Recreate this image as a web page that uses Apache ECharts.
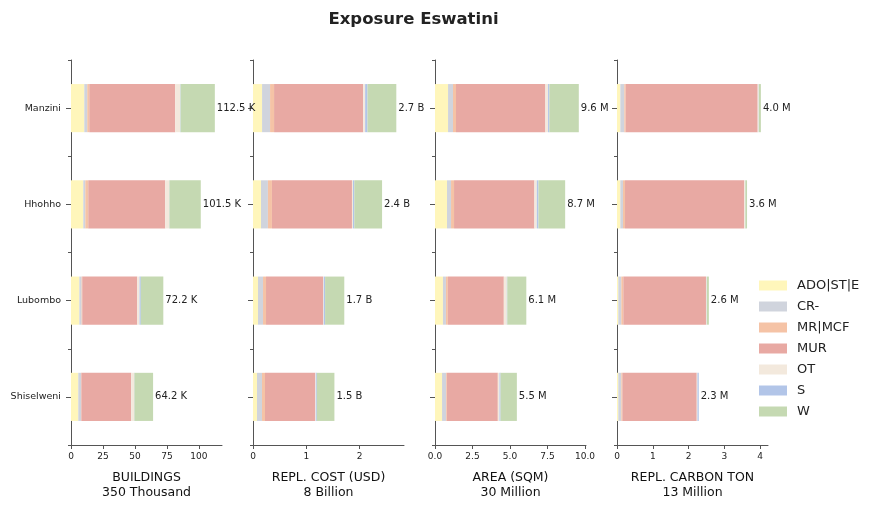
<!DOCTYPE html>
<html>
	<head>
		<meta charset="utf-8">
		<title>Exposure Eswatini</title>
		<script src="https://cdn.jsdelivr.net/npm/echarts@6/dist/echarts.min.js"></script>
		<style>
			html, body { margin: 0; padding: 0; background: #fff; }
			#chart { width: 879px; height: 510px; }
		</style>
	</head>
	<body>
		<div id="chart"></div>
		<script>
			// regions, top to bottom
			const regions = ['Manzini', 'Hhohho', 'Lubombo', 'Shiselweni'];
			const classes = ['ADO|ST|E', 'CR-', 'MR|MCF', 'MUR', 'OT', 'S', 'W'];
			const colors = ['#fff6bb', '#d0d4dd', '#f5c3a6', '#e8a9a3', '#f3e9dd', '#b2c5e8', '#c5d9b2'];

			// one row per class, one value per region
			const buildings = [   // thousand
				[10.4, 9.6, 6.5, 5.7],
				[2.3, 1.6, 1.8, 2.1],
				[1.6, 2.3, 0.5, 0.3],
				[67.2, 60.2, 43.0, 39.0],
				[3.9, 3.1, 1.8, 2.3],
				[0.3, 0.2, 1.0, 0.2],
				[26.8, 24.5, 17.6, 14.6]
			];
			const replCost = [    // billion USD
				[0.17, 0.15, 0.094, 0.075],
				[0.15, 0.13, 0.094, 0.094],
				[0.075, 0.075, 0.056, 0.056],
				[1.67, 1.50, 1.07, 0.94],
				[0.037, 0.019, 0.012, 0.012],
				[0.044, 0.025, 0.025, 0.019],
				[0.54, 0.52, 0.36, 0.33]
			];
			const area = [        // million sqm
				[0.87, 0.80, 0.53, 0.47],
				[0.33, 0.27, 0.20, 0.27],
				[0.20, 0.20, 0.13, 0.05],
				[5.96, 5.36, 3.73, 3.40],
				[0.18, 0.16, 0.20, 0.11],
				[0.09, 0.11, 0.03, 0.07],
				[1.96, 1.78, 1.27, 1.09]
			];
			const carbon = [      // million ton
				[0.093, 0.093, 0.037, 0.037],
				[0.112, 0.075, 0.084, 0.084],
				[0.037, 0.056, 0.056, 0.028],
				[3.69, 3.33, 2.31, 2.08],
				[0.028, 0.028, 0.019, 0.019],
				[0.005, 0.005, 0.005, 0.037],
				[0.056, 0.047, 0.056, 0]
			];

			const buildingsLabels = ['112.5 K', '101.5 K', '72.2 K', '64.2 K'];
			const costLabels = ['2.7 B', '2.4 B', '1.7 B', '1.5 B'];
			const areaLabels = ['9.6 M', '8.7 M', '6.1 M', '5.5 M'];
			const carbonLabels = ['4.0 M', '3.6 M', '2.6 M', '2.3 M'];

			const buildingsTicks = [0, 25, 50, 75, 100];
			const costTicks = [0, 1, 2];
			const areaTicks = [0, 2.5, 5, 7.5, 10];
			const carbonTicks = [0, 1, 2, 3, 4];

			const panels = [
				{ data: buildings, labels: buildingsLabels, ticks: buildingsTicks, max: 118.1, name: 'BUILDINGS\n350 Thousand', fmt: v => String(v) },
				{ data: replCost, labels: costLabels, ticks: costTicks, max: 2.83, name: 'REPL. COST (USD)\n8 Billion', fmt: v => String(v) },
				{ data: area, labels: areaLabels, ticks: areaTicks, max: 10.07, name: 'AREA (SQM)\n30 Million', fmt: v => v.toFixed(1) },
				{ data: carbon, labels: carbonLabels, ticks: carbonTicks, max: 4.22, name: 'REPL. CARBON TON\n13 Million', fmt: v => String(v) }
			];

			const font = 'DejaVu Sans';
			const axisColor = '#555';

			const grid = [], xAxis = [], yAxis = [], series = [];
			panels.forEach((p, i) => {
				grid.push({ left: 71 + 182 * i, top: 60, width: 151, height: 385 });
				xAxis.push({
					type: 'value', gridIndex: i, min: 0, max: p.max,
					name: p.name, nameLocation: 'middle', nameGap: 25,
					nameTextStyle: { fontFamily: font, fontSize: 12.5, color: '#111', lineHeight: 15 },
					axisLine: { show: true, lineStyle: { color: axisColor } },
					axisTick: { show: true, length: 4, customValues: p.ticks, lineStyle: { color: axisColor } },
					axisLabel: { customValues: p.ticks, formatter: p.fmt, fontFamily: font, fontSize: 9, color: '#222', margin: 7 },
					splitLine: { show: false }
				});
				// main category axis with ticks at the labels
				yAxis.push({
					type: 'category', gridIndex: i, data: regions, inverse: true, position: 'left',
					axisLine: { show: true, lineStyle: { color: axisColor } },
					axisTick: { show: true, alignWithLabel: true, length: 5, lineStyle: { color: axisColor } },
					axisLabel: { show: i === 0, fontFamily: font, fontSize: 9.5, color: '#222', margin: 10 }
				});
				// second axis only for the short ticks between regions
				yAxis.push({
					type: 'category', gridIndex: i, data: regions, inverse: true, position: 'left',
					axisLine: { show: false },
					axisTick: { show: true, length: 3, lineStyle: { color: axisColor } },
					axisLabel: { show: false }
				});
				classes.forEach((c, k) => {
					const s = {
						name: c, type: 'bar', stack: 'p' + i,
						xAxisIndex: i, yAxisIndex: 2 * i,
						barWidth: '50%',
						itemStyle: { color: colors[k] },
						emphasis: { disabled: true },
						data: p.data[k]
					};
					if (k === classes.length - 1) {
						s.label = {
							show: true, position: 'right', distance: 2,
							fontFamily: font, fontSize: 10, color: '#222',
							formatter: prm => p.labels[prm.dataIndex]
						};
					}
					series.push(s);
				});
			});

			const chart = echarts.init(document.getElementById('chart'), null, { renderer: 'canvas' });
			chart.setOption({
				animation: false,
				title: {
					text: 'Exposure Eswatini', left: 408.5, top: 6, textAlign: 'center',
					textStyle: { fontFamily: font, fontSize: 16.5, fontWeight: 'bold', color: '#222' }
				},
				legend: {
					data: classes, orient: 'vertical', left: 759, top: 279, padding: 0,
					itemWidth: 28, itemHeight: 10, itemGap: 8,
					icon: 'rect',
					textStyle: { fontFamily: font, fontSize: 13, color: '#222', lineHeight: 13, padding: [0, 0, 0, 5] }
				},
				grid: grid,
				xAxis: xAxis,
				yAxis: yAxis,
				series: series
			});
		</script>
	</body>
</html>
